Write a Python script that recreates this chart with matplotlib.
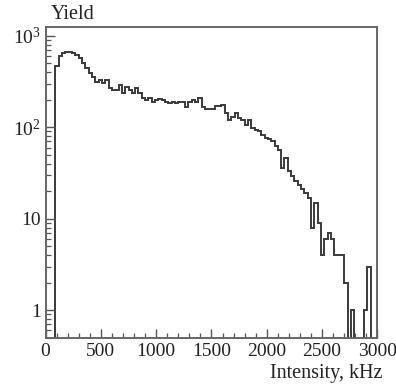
import matplotlib
matplotlib.use("Agg")
import matplotlib.pyplot as plt
import numpy as np
from matplotlib.ticker import FixedLocator, FixedFormatter, LogLocator, NullFormatter, MultipleLocator

plt.rcParams['font.family'] = ['Liberation Serif', 'DejaVu Serif']
plt.rcParams['mathtext.fontset'] = 'custom'
plt.rcParams['mathtext.rm'] = 'Liberation Serif'

# bin edges: 30 kHz wide, 0..3000
bin_width = 30
bin_edges = np.arange(0, 3000 + bin_width, bin_width)

# counts, one per bin
counts = [
    0, 0, 0, 467, 604, 641, 658, 658, 641, 615,
    566, 499, 440, 388, 356, 314, 328, 302, 328, 266,
    255, 255, 289, 235, 275, 255, 235, 266, 235, 207,
    199, 207, 190, 199, 203, 199, 190, 183, 190, 183,
    190, 190, 168, 190, 199, 190, 207, 168, 157, 157,
    160, 170, 170, 175, 142, 120, 130, 142, 125, 120,
    106, 120, 97, 94, 90, 82, 77, 75, 70, 62,
    57, 36, 46, 33, 29, 26, 23.6, 21, 19, 17,
    8, 15, 9, 4, 6, 7, 6, 4, 4, 4,
    2, 0, 1, 0, 0, 0, 1, 3, 0, 0,
]
counts = np.array(counts, dtype=float)

fig = plt.figure(figsize=(3.96, 3.90), dpi=100)
ax = fig.add_axes([0.115, 0.134, 0.838, 0.797])

# empty bins pushed below the axis so the steps drop to the frame
shown = np.where(counts > 0, counts, 1e-3)
ax.stairs(shown, bin_edges, baseline=1e-3, color='#3a3a3a', linewidth=1.4)

ax.set_yscale('log')
ax.set_xlim(0, 3000)
ax.set_ylim(0.5, 1250)

ax.yaxis.set_major_locator(FixedLocator([1, 10, 100, 1000]))
ax.yaxis.set_major_formatter(FixedFormatter(['1', '10', r'$\mathregular{10^2}$', r'$\mathregular{10^3}$']))
ax.yaxis.set_minor_locator(LogLocator(base=10, subs=np.arange(2, 10)))
ax.yaxis.set_minor_formatter(NullFormatter())
ax.xaxis.set_major_locator(MultipleLocator(500))
ax.xaxis.set_minor_locator(MultipleLocator(100))

for s in ax.spines.values():
    s.set_color('#666666')
    s.set_linewidth(1.4)

ax.tick_params(which='both', direction='in', top=False, right=False,
               color='#555555', labelsize=14, labelcolor='#222222')
ax.tick_params(which='major', length=6.5, width=1.0, pad=3.5)
ax.tick_params(which='minor', length=3.3, width=0.9)

fig.text(0.127, 0.962, 'Yield', fontsize=14.5, color='#222222', ha='left', va='center')
fig.text(0.967, 0.043, 'Intensity, kHz', fontsize=14.5, color='#222222', ha='right', va='center')

fig.savefig('out.png', dpi=100)
